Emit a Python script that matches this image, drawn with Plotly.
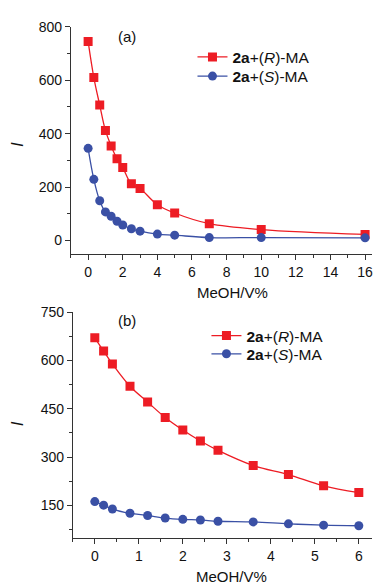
import plotly.graph_objects as go

# Panel (a)
xa = [0, 0.33, 0.67, 1.0, 1.33, 1.67, 2.0, 2.5, 3.0, 4, 5, 7, 10, 16]
ra = [745, 610, 507, 412, 354, 306, 273, 212, 195, 134, 103, 63, 41, 23]
sa = [345, 229, 149, 107, 91, 72, 58, 44, 35, 24, 20, 11, 11, 10]
# Panel (b)
xb = [0, 0.2, 0.4, 0.8, 1.2, 1.6, 2.0, 2.4, 2.8, 3.6, 4.4, 5.2, 6.0]
rb = [670, 629, 589, 520, 471, 423, 384, 350, 321, 274, 246, 211, 190]
sb = [162, 151, 139, 126, 119, 111, 107, 105, 101, 99, 93, 89, 87]

xa_ticks = [0, 2, 4, 6, 8, 10, 12, 14, 16]
ya_ticks = [0, 200, 400, 600, 800]
xb_ticks = [0, 1, 2, 3, 4, 5, 6]
yb_ticks = [150, 300, 450, 600, 750]

names = ["<b>2a</b>+(<i>R</i>)-MA", "<b>2a</b>+(<i>S</i>)-MA"]
RED = "rgb(237,28,36)"
BLUE = "rgb(58,80,165)"
FONT = "Liberation Sans, Arial, sans-serif"
W, H = 374, 585

fig = go.Figure()
fig.add_trace(go.Scatter(x=xa, y=ra, name=names[0], mode="lines+markers",
                         line=dict(color=RED, width=1.3, shape="spline"),
                         marker=dict(symbol="square", size=9, color=RED),
                         xaxis="x", yaxis="y", legend="legend", showlegend=True))
fig.add_trace(go.Scatter(x=xa, y=sa, name=names[1], mode="lines+markers",
                         line=dict(color=BLUE, width=1.3, shape="spline"),
                         marker=dict(symbol="circle", size=9, color=BLUE),
                         xaxis="x", yaxis="y", legend="legend2", showlegend=True))
fig.add_trace(go.Scatter(x=xb, y=rb, name=names[0], mode="lines+markers",
                         line=dict(color=RED, width=1.3, shape="spline"),
                         marker=dict(symbol="square", size=9, color=RED),
                         xaxis="x2", yaxis="y2", legend="legend3", showlegend=True))
fig.add_trace(go.Scatter(x=xb, y=sb, name=names[1], mode="lines+markers",
                         line=dict(color=BLUE, width=1.3, shape="spline"),
                         marker=dict(symbol="circle", size=9, color=BLUE),
                         xaxis="x2", yaxis="y2", legend="legend4", showlegend=True))

axcommon = dict(showline=True, linecolor="#333", linewidth=1, ticks="outside",
                ticklen=5, tickcolor="#333", showgrid=False, zeroline=False,
                ticklabeloverflow="allow",
                tickfont=dict(family=FONT, size=14, color="#111"))

def px(x):
    return x / W

def py(y):
    return (H - y) / H

def ann(text, x, y, size=15, angle=0):
    return dict(text=text, x=px(x), y=py(y), xref="paper", yref="paper",
                xanchor="center", yanchor="middle", showarrow=False,
                textangle=angle, font=dict(family=FONT, size=size, color="#111"))

def leg(x, y):
    return dict(x=px(x), y=py(y), xanchor="left", yanchor="middle", visible=True,
                bgcolor="rgba(0,0,0,0)", font=dict(family=FONT, size=15.5, color="#111"),
                tracegroupgap=0, itemwidth=30)

fig.update_layout(
    width=W, height=H,
    showlegend=True,
    margin=dict(l=0, r=0, t=0, b=0),
    paper_bgcolor="white", plot_bgcolor="white",
    font=dict(family=FONT, size=14, color="#111"),
    xaxis=dict(domain=[px(71), px(373)], range=[-1, 16.4], tickvals=xa_ticks,
               anchor="y", minor=dict(ticks="outside", ticklen=3, dtick=1, tickcolor="#333"),
               **axcommon),
    yaxis=dict(domain=[py(249.3), py(19)], range=[-50, 800], tickvals=ya_ticks,
               anchor="x", minor=dict(ticks="outside", ticklen=3, dtick=100, tickcolor="#333"),
               **axcommon),
    xaxis2=dict(domain=[px(73), px(373)], range=[-0.5, 6.3], tickvals=xb_ticks,
                anchor="y2", minor=dict(ticks="outside", ticklen=3, dtick=0.5, tickcolor="#333"),
                **axcommon),
    yaxis2=dict(domain=[py(537.7), py(308.3)], range=[48, 750], tickvals=yb_ticks,
                anchor="x2", minor=dict(ticks="outside", ticklen=3, dtick=75, tickcolor="#333"),
                **axcommon),
    legend=leg(193, 50),
    legend2=leg(193, 69.5),
    legend3=leg(207, 332.5),
    legend4=leg(207, 351),
    annotations=[
        ann("(a)", 127, 29),
        ann("(b)", 127, 317),
        ann("<i>I</i>", 17, 138, size=17, angle=-90),
        ann("<i>I</i>", 17, 421, size=17, angle=-90),
        ann("MeOH/V%", 233, 288),
        ann("MeOH/V%", 232, 576),
    ],
)

fig.write_html("out.html", config={"displayModeBar": False},
               post_script="document.body.style.margin='0';document.body.style.overflow='hidden';")
